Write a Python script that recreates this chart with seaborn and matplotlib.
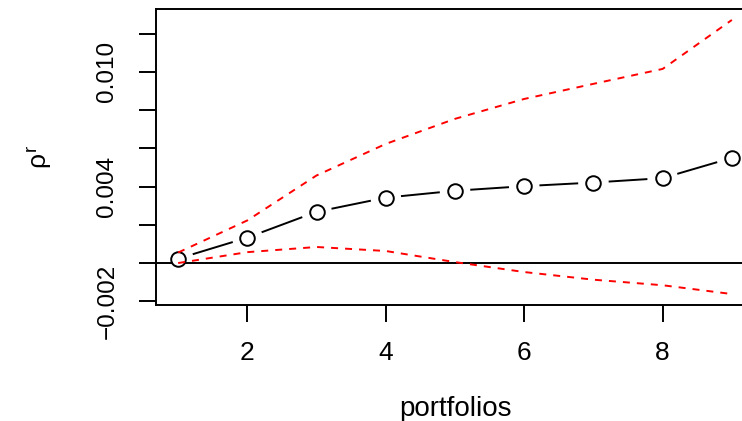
import numpy as np
import pandas as pd
import matplotlib
matplotlib.use("Agg")
import matplotlib.pyplot as plt
import seaborn as sns

# portfolio index and estimated rho^r with its confidence band
portfolios = [1, 2, 3, 4, 5, 6, 7, 8, 9]
rho_r = [0.00023, 0.00133, 0.00268, 0.00342, 0.00378, 0.00402, 0.00421, 0.00444, 0.00550]
upper = [0.00055, 0.00223, 0.00458, 0.00623, 0.00754, 0.00858, 0.00937, 0.01015, 0.01271]
lower = [0.00000, 0.00057, 0.00084, 0.00063, 0.00005, -0.00047, -0.00087, -0.00116, -0.00162]

y_ticks = [-0.002, 0.000, 0.002, 0.004, 0.006, 0.008, 0.010, 0.012]
y_tick_labels = ["\u22120.002", "", "", "0.004", "", "", "0.010", ""]
x_ticks = [2, 4, 6, 8]

df = pd.DataFrame({"portfolios": portfolios, "rho": rho_r, "upper": upper, "lower": lower})

sns.set_style("ticks")
plt.rcParams["font.family"] = ["Liberation Sans", "DejaVu Sans"]
plt.rcParams["mathtext.fontset"] = "custom"
plt.rcParams["mathtext.rm"] = "Liberation Sans"
plt.rcParams["mathtext.it"] = "Liberation Sans"
plt.rcParams["text.color"] = "black"
plt.rcParams["axes.labelcolor"] = "black"
plt.rcParams["xtick.color"] = "black"
plt.rcParams["ytick.color"] = "black"

fig = plt.figure(figsize=(7.42, 4.21), dpi=100)
ax = fig.add_axes([156 / 742, 116 / 421, 598 / 742, 296 / 421])

lw = 1.4
# connecting line (type "b": segments broken around each point)
sns.lineplot(data=df, x="portfolios", y="rho", ax=ax, color="black", lw=lw,
             zorder=1, estimator=None, sort=False)
sns.scatterplot(data=df, x="portfolios", y="rho", ax=ax, s=22 ** 2, color="white",
                edgecolor="none", linewidth=0, zorder=2)
ax.axhline(0, color="black", lw=lw, zorder=3)
sns.scatterplot(data=df, x="portfolios", y="rho", ax=ax, s=10.5 ** 2, marker="o",
                facecolor="white", edgecolor="black", linewidth=lw, zorder=4)

for col in ["upper", "lower"]:
    sns.lineplot(data=df, x="portfolios", y=col, ax=ax, color="red", lw=lw,
                 dashes=False, zorder=5, estimator=None, sort=False)
for line in ax.lines[-2:]:
    line.set_dashes((3.6, 3.6))

xmin, xmax = min(portfolios), max(portfolios)
ymin, ymax = min(lower), max(upper)
xpad, ypad = 0.04 * (xmax - xmin), 0.04 * (ymax - ymin)
ax.set_xlim(xmin - xpad, xmax + xpad)
ax.set_ylim(ymin - ypad, ymax + ypad)

ax.set_xticks(x_ticks)
ax.set_xticklabels([str(t) for t in x_ticks], fontsize=19)
ax.set_yticks(y_ticks)
ax.set_yticklabels(y_tick_labels, rotation=90, va="center", fontsize=17.5)

ax.tick_params(axis="both", length=12, width=lw, color="black", labelcolor="black", direction="out")
ax.tick_params(axis="x", pad=14)
ax.tick_params(axis="y", pad=15)
for s in ax.spines.values():
    s.set_linewidth(lw)
    s.set_color("black")
    s.set_visible(True)

ax.set_xlabel("portfolios", fontsize=20, labelpad=22, color="black")
ax.set_ylabel(r"$\rho^r$", fontsize=19, labelpad=30, color="black")

fig.savefig("out.png", dpi=100)
